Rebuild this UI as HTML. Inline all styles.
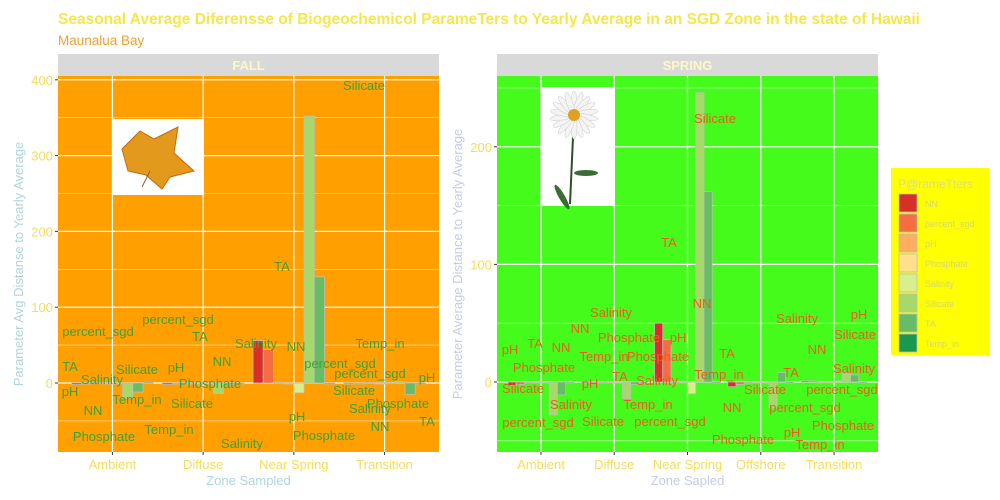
<!DOCTYPE html>
<html><head><meta charset="utf-8">
<style>
body{margin:0;background:#fff;}
svg{display:block;font-family:"Liberation Sans",Arial,sans-serif;}
</style></head>
<body>
<svg id="chart" width="1000" height="500" viewBox="0 0 1000 500">
<text x="58" y="24" font-size="15.5" font-weight="bold" fill="#f7e64a">Seasonal Average Diferensse of Biogeochemicol ParameTers to Yearly Average in an SGD Zone in the state of Hawaii</text>
<text x="58" y="45" font-size="13.5" fill="#f0a030">Maunalua Bay</text>
<g id="fall"></g>
<g id="spring"></g>
<g id="legend"></g>
</svg>
<script>
const params = ["NN","percent_sgd","pH","Phosphate","Salinity","Silicate","TA","Temp_in"];
const colors = ["#d73027","#f46d43","#fdae61","#fee08b","#d9ef8b","#a6d96a","#66bd63","#1a9850"];
const fallZones = ["Ambient","Diffuse","Near Spring","Transition"];
const fallNN = [-2,-2,56,0];
const fallPct = [-1,-1,44,0];
const fallPH = [0.5,0,1,0.5];
const fallPhos = [0,0,0,0];
const fallSal = [-1,0,-13,1];
const fallSil = [-20,-14,352,2];
const fallTA = [-12,-2,140,-15];
const fallTemp = [1,0,0,0];
const fallTicks = [0,100,200,300,400];
const springZones = ["Ambient","Diffuse","Near Spring","Offshore","Transition"];
const springNN = [-3,0,50,-4,1];
const springPct = [-2,0,36,-2,1];
const springPH = [0,0,0,0,0];
const springPhos = [0,0,0,0,0];
const springSal = [0,-1,-10,0,1];
const springSil = [-28,-14,246,-22,8];
const springTA = [-11,-2,162,8,6];
const springTemp = [0,0,0,0,0];
const springTicks = [0,100,200];

const fallLabels = [["Silicate",364,90],["TA",282,271],["percent_sgd",98,336],["percent_sgd",178,324],["TA",200,341],["TA",70,371],["Salinity",102,384],["Silicate",137,374],["pH",176,372],["NN",222,366],["Salinity",256,348],["NN",296,351],["percent_sgd",340,368],["Temp_in",380,348],["percent_sgd",370,378],["pH",70,396],["Temp_in",137,404],["Phosphate",210,388],["Silicate",192,408],["NN",93,415],["pH",427,382],["Silicate",354,395],["Phosphate",398,408],["Salinity",370,413],["pH",297,421],["TA",427,426],["NN",380,431],["Phosphate",104,441],["Temp_in",169,434],["Phosphate",324,440],["Salinity",242,448]];
const springLabels = [["Silicate",715,123],["TA",669,247],["NN",702,308],["Salinity",611,317],["NN",580,333],["Phosphate",629,342],["pH",678,342],["TA",535,348],["NN",561,352],["pH",510,354],["Temp_in",604,361],["Phosphate",658,361],["TA",727,358],["Phosphate",544,372],["Temp_in",719,379],["Salinity",657,385],["TA",620,381],["pH",590,388],["Silicate",523,393],["Salinity",571,409],["Temp_in",648,409],["percent_sgd",538,427],["Silicate",603,426],["percent_sgd",670,426],["Salinity",797,323],["pH",859,319],["Silicate",855,339],["NN",817,354],["Salinity",854,373],["TA",791,377],["Silicate",765,394],["percent_sgd",842,394],["percent_sgd",805,412],["NN",732,412],["Phosphate",843,430],["Phosphate",743,444],["pH",792,437],["Temp_in",820,449]];

const NS="http://www.w3.org/2000/svg";
function mk(parent,tag,attrs){const e=document.createElementNS(NS,tag);for(const k in attrs)e.setAttribute(k,attrs[k]);parent.appendChild(e);return e;}

function panel(g,opt){
  const {x0,x1,y0,y1,zero,pxPerUnit,zones,series,ticks,bg,title,labels,labelColor,yTitle,yTitleColor,xTitle,xTitleColor,img}=opt;
  const ys=v=>zero-v*pxPerUnit;
  const step=(x1-x0)/(zones.length+0.2);
  const xc=i=>x0+step*(i+0.6);
  const strip=mk(g,'rect',{x:x0,y:54,width:x1-x0,height:22,fill:'#d9d9d9'});
  
  const st=mk(g,'text',{x:(x0+x1)/2,y:70,'text-anchor':'middle','font-size':13,'font-weight':'bold',fill:'#fdf6c8'});st.textContent=title;
  
  const bgR=mk(g,'rect',{x:x0,y:y0,width:x1-x0,height:y1-y0,fill:bg});
  
  for(let i=0;i<ticks.length;i++){
    const m=ticks[i]+(ticks[1]-ticks[0])/2; const ym=ys(m);
    if(ym>y0&&ym<y1) mk(g,'line',{x1:x0,x2:x1,y1:ym,y2:ym,stroke:'#fff','stroke-width':0.6,opacity:0.8});
    const mm=ticks[0]-(ticks[1]-ticks[0])/2; const ymm=ys(mm);
    if(i==0&&ymm>y0&&ymm<y1) mk(g,'line',{x1:x0,x2:x1,y1:ymm,y2:ymm,stroke:'#fff','stroke-width':0.6,opacity:0.8});
  }
  ticks.forEach(t=>{const y=ys(t);
    mk(g,'line',{x1:x0,x2:x1,y1:y,y2:y,stroke:'#fff','stroke-width':1.2});
    mk(g,'line',{x1:x0-3,x2:x0,y1:y,y2:y,stroke:'#333','stroke-width':1});
    const tl=mk(g,'text',{x:x0-5,y:y+5,'text-anchor':'end','font-size':13,fill:'#f5dc5a'});tl.textContent=t;
    
  });
  zones.forEach((z,i)=>{const x=xc(i);
    mk(g,'line',{x1:x,x2:x,y1:y0,y2:y1,stroke:'#fff','stroke-width':1.2});
    mk(g,'line',{x1:x,x2:x,y1:y1,y2:y1+3,stroke:'#333','stroke-width':1});
    const xl=mk(g,'text',{x:x,y:y1+17,'text-anchor':'middle','font-size':13,fill:'#f5dc5a'});xl.textContent=z;
    
  });
  const ib=mk(g,'rect',{x:img[0],y:img[1],width:img[2],height:img[3],fill:'#fff'});
  
  if(img[4]=='leaf'){
    const cx=img[0]+img[2]/2, cy=img[1]+img[3]/2;
    mk(g,'polygon',{points:`${cx-36},${cy-8} ${cx-18},${cy-26} ${cx-4},${cy-18} ${cx+20},${cy-30} ${cx+16},${cy-4} ${cx+36},${cy+14} ${cx+12},${cy+20} ${cx+4},${cy+32} ${cx-12},${cy+18} ${cx-30},${cy+14}`,fill:'#e39a1c',stroke:'#c46a10','stroke-width':1});
    mk(g,'line',{x1:cx-8,y1:cy+14,x2:cx-16,y2:cy+30,stroke:'#8a5a20','stroke-width':1});
  } else {
    const cx=img[0]+img[2]/2-4, cy=img[1]+28;
    mk(g,'line',{x1:cx,y1:cy,x2:cx-4,y2:img[1]+img[3]-2,stroke:'#2f4f2a','stroke-width':2});
    mk(g,'ellipse',{cx:cx+12,cy:cy+58,rx:12,ry:3,fill:'#3d6b35'});
    mk(g,'ellipse',{cx:cx-12,cy:cy+82,rx:3,ry:14,fill:'#3d6b35',transform:`rotate(-30 ${cx-12} ${cy+82})`});
    for(let a=0;a<360;a+=20){mk(g,'ellipse',{cx:cx,cy:cy-12,rx:3,ry:12,fill:'#f4f4f4',stroke:'#ccc','stroke-width':0.5,transform:`rotate(${a} ${cx} ${cy}) `});}
    mk(g,'circle',{cx:cx,cy:cy,r:6,fill:'#e0a020'});
  }
  const bw=step*0.9/params.length;
  zones.forEach((z,i)=>{
    series.forEach((s,k)=>{
      const v=s[i]; const xb=xc(i)-step*0.45+k*bw;
      const yt=Math.min(ys(v),ys(0)); const h=Math.max(Math.abs(ys(v)-ys(0)),1);
      const r=mk(g,'rect',{x:xb,y:yt,width:bw,height:h,fill:colors[k],stroke:'#bdbdbd','stroke-width':0.8});
      
      
    });
  });
  labels.forEach(l=>{
    const t=mk(g,'text',{x:l[1],y:l[2],'text-anchor':'middle','font-size':13,fill:labelColor});t.textContent=l[0];
    
    
  });
  const yt=mk(g,'text',{transform:`translate(${x0-35},${(y0+y1)/2}) rotate(-90)`,'text-anchor':'middle','font-size':13,fill:yTitleColor});yt.textContent=yTitle;
  
  const xt=mk(g,'text',{x:(x0+x1)/2,y:485,'text-anchor':'middle','font-size':13,fill:xTitleColor});xt.textContent=xTitle;
  
}

panel(document.getElementById('fall'),{x0:58,x1:439,y0:76,y1:452,zero:383,pxPerUnit:0.758,zones:fallZones,
  series:[fallNN,fallPct,fallPH,fallPhos,fallSal,fallSil,fallTA,fallTemp],ticks:fallTicks,bg:'#ff9f00',title:'FALL',
  labels:fallLabels,labelColor:'#3fa03a',yTitle:'Parameter Avg Distanse to Yearly Average',yTitleColor:'#aed6de',
  xTitle:'Zone Sampled',xTitleColor:'#aed6de',img:[112,119,92,76,'leaf']});
panel(document.getElementById('spring'),{x0:497,x1:878,y0:76,y1:452,zero:382,pxPerUnit:1.176,zones:springZones,
  series:[springNN,springPct,springPH,springPhos,springSal,springSil,springTA,springTemp],ticks:springTicks,bg:'#45fb1c',title:'SPRING',
  labels:springLabels,labelColor:'#e8601c',yTitle:'Parameter Average Distance to Yearly Average',yTitleColor:'#c6cbe8',
  xTitle:'Zone Sapled',xTitleColor:'#c6cbe8',img:[541,87,74,119,'flower']});

const lg=document.getElementById('legend');
const lb=mk(lg,'rect',{x:891,y:168,width:98,height:187,fill:'#ffff00'});

const lt=mk(lg,'text',{x:898,y:188,'font-size':12,fill:'#d8e07a'});lt.textContent='P@rameTters';

params.forEach((p,i)=>{
  const y=194+i*20;
  const sw=mk(lg,'rect',{x:899,y:y,width:18,height:18,fill:colors[i],stroke:'#bdbdbd','stroke-width':0.8});
  
  const t=mk(lg,'text',{x:925,y:y+13,'font-size':9,fill:'#d6d86a'});t.textContent=p;
  
});
</script>
</body></html>
